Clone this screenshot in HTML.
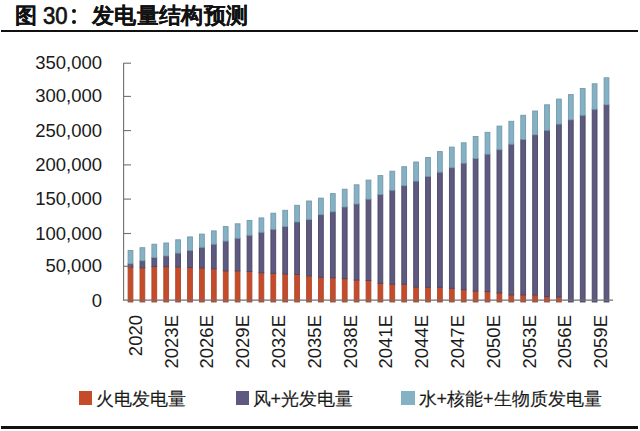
<!DOCTYPE html>
<html><head><meta charset="utf-8">
<style>
html,body{margin:0;padding:0;background:#fff;}
body{width:640px;height:431px;position:relative;overflow:hidden;font-family:"Liberation Sans",sans-serif;color:#1a1a1a;}
.title{position:absolute;left:15px;top:0.5px;font-size:22px;font-weight:bold;white-space:nowrap;line-height:30px;color:#111;-webkit-text-stroke:0.05px #111;}
.dot{position:absolute;left:72px;width:4px;height:4px;border-radius:50%;background:#111;}
.rule{position:absolute;left:1px;width:637px;background:#111;}
.yl{position:absolute;right:538px;font-size:18.5px;line-height:22px;white-space:nowrap;text-align:right;}
.xl{position:absolute;top:315px;width:0;height:0;}
.xl{font-size:18px;}
.lg{position:absolute;top:385.8px;font-size:18px;line-height:26px;white-space:nowrap;-webkit-text-stroke:0.15px #1a1a1a;}
.sq{position:absolute;top:391px;width:13.5px;height:14px;}
svg{position:absolute;left:0;top:0;}
</style></head><body>
<div class="title" style="left:15px">图</div>
<div class="title" style="left:43px;top:1.0px;font-size:24px;transform:scaleX(0.92);transform-origin:0 0;font-weight:normal;-webkit-text-stroke:0.7px #111">30</div>
<div class="dot" style="top:8.9px"></div><div class="dot" style="top:20px"></div>
<div class="title" style="left:91.8px;letter-spacing:0.4px">发电量结构预测</div>
<div class="rule" style="top:30px;height:2px"></div>
<div class="rule" style="top:426.3px;height:2.6px"></div>
<div class="yl" style="top:290.2px">0</div>
<div class="yl" style="top:255.2px">50,000</div>
<div class="yl" style="top:222.5px">100,000</div>
<div class="yl" style="top:188.1px">150,000</div>
<div class="yl" style="top:153.9px">200,000</div>
<div class="yl" style="top:119.6px">250,000</div>
<div class="yl" style="top:85.4px">300,000</div>
<div class="yl" style="top:52.2px">350,000</div>
<svg width="640" height="431" viewBox="0 0 640 431">
<rect x="128.10" y="267.00" width="4.8" height="35.00" fill="#c64b28" stroke="#ab4932" stroke-width="0.9"/>
<rect x="128.10" y="263.80" width="4.8" height="3.20" fill="#5d5980" stroke="#4a4663" stroke-width="0.9"/>
<rect x="128.10" y="250.50" width="4.8" height="13.30" fill="#85b1c4" stroke="#7399ab" stroke-width="0.9"/>
<rect x="140.00" y="267.80" width="4.8" height="34.20" fill="#c64b28" stroke="#ab4932" stroke-width="0.9"/>
<rect x="140.00" y="260.80" width="4.8" height="7.00" fill="#5d5980" stroke="#4a4663" stroke-width="0.9"/>
<rect x="140.00" y="247.70" width="4.8" height="13.10" fill="#85b1c4" stroke="#7399ab" stroke-width="0.9"/>
<rect x="151.90" y="266.50" width="4.8" height="35.50" fill="#c64b28" stroke="#ab4932" stroke-width="0.9"/>
<rect x="151.90" y="257.60" width="4.8" height="8.90" fill="#5d5980" stroke="#4a4663" stroke-width="0.9"/>
<rect x="151.90" y="244.20" width="4.8" height="13.40" fill="#85b1c4" stroke="#7399ab" stroke-width="0.9"/>
<rect x="163.80" y="266.70" width="4.8" height="35.30" fill="#c64b28" stroke="#ab4932" stroke-width="0.9"/>
<rect x="163.80" y="256.00" width="4.8" height="10.70" fill="#5d5980" stroke="#4a4663" stroke-width="0.9"/>
<rect x="163.80" y="243.00" width="4.8" height="13.00" fill="#85b1c4" stroke="#7399ab" stroke-width="0.9"/>
<rect x="175.70" y="267.00" width="4.8" height="35.00" fill="#c64b28" stroke="#ab4932" stroke-width="0.9"/>
<rect x="175.70" y="253.10" width="4.8" height="13.90" fill="#5d5980" stroke="#4a4663" stroke-width="0.9"/>
<rect x="175.70" y="239.80" width="4.8" height="13.30" fill="#85b1c4" stroke="#7399ab" stroke-width="0.9"/>
<rect x="187.60" y="267.60" width="4.8" height="34.40" fill="#c64b28" stroke="#ab4932" stroke-width="0.9"/>
<rect x="187.60" y="250.50" width="4.8" height="17.10" fill="#5d5980" stroke="#4a4663" stroke-width="0.9"/>
<rect x="187.60" y="236.90" width="4.8" height="13.60" fill="#85b1c4" stroke="#7399ab" stroke-width="0.9"/>
<rect x="199.50" y="268.00" width="4.8" height="34.00" fill="#c64b28" stroke="#ab4932" stroke-width="0.9"/>
<rect x="199.50" y="247.30" width="4.8" height="20.70" fill="#5d5980" stroke="#4a4663" stroke-width="0.9"/>
<rect x="199.50" y="234.10" width="4.8" height="13.20" fill="#85b1c4" stroke="#7399ab" stroke-width="0.9"/>
<rect x="211.40" y="268.80" width="4.8" height="33.20" fill="#c64b28" stroke="#ab4932" stroke-width="0.9"/>
<rect x="211.40" y="244.20" width="4.8" height="24.60" fill="#5d5980" stroke="#4a4663" stroke-width="0.9"/>
<rect x="211.40" y="230.90" width="4.8" height="13.30" fill="#85b1c4" stroke="#7399ab" stroke-width="0.9"/>
<rect x="223.30" y="270.90" width="4.8" height="31.10" fill="#c64b28" stroke="#ab4932" stroke-width="0.9"/>
<rect x="223.30" y="241.10" width="4.8" height="29.80" fill="#5d5980" stroke="#4a4663" stroke-width="0.9"/>
<rect x="223.30" y="226.60" width="4.8" height="14.50" fill="#85b1c4" stroke="#7399ab" stroke-width="0.9"/>
<rect x="235.20" y="270.90" width="4.8" height="31.10" fill="#c64b28" stroke="#ab4932" stroke-width="0.9"/>
<rect x="235.20" y="238.30" width="4.8" height="32.60" fill="#5d5980" stroke="#4a4663" stroke-width="0.9"/>
<rect x="235.20" y="223.80" width="4.8" height="14.50" fill="#85b1c4" stroke="#7399ab" stroke-width="0.9"/>
<rect x="247.10" y="271.40" width="4.8" height="30.60" fill="#c64b28" stroke="#ab4932" stroke-width="0.9"/>
<rect x="247.10" y="235.30" width="4.8" height="36.10" fill="#5d5980" stroke="#4a4663" stroke-width="0.9"/>
<rect x="247.10" y="220.50" width="4.8" height="14.80" fill="#85b1c4" stroke="#7399ab" stroke-width="0.9"/>
<rect x="259.00" y="272.80" width="4.8" height="29.20" fill="#c64b28" stroke="#ab4932" stroke-width="0.9"/>
<rect x="259.00" y="232.30" width="4.8" height="40.50" fill="#5d5980" stroke="#4a4663" stroke-width="0.9"/>
<rect x="259.00" y="217.90" width="4.8" height="14.40" fill="#85b1c4" stroke="#7399ab" stroke-width="0.9"/>
<rect x="270.90" y="273.30" width="4.8" height="28.70" fill="#c64b28" stroke="#ab4932" stroke-width="0.9"/>
<rect x="270.90" y="229.40" width="4.8" height="43.90" fill="#5d5980" stroke="#4a4663" stroke-width="0.9"/>
<rect x="270.90" y="213.20" width="4.8" height="16.20" fill="#85b1c4" stroke="#7399ab" stroke-width="0.9"/>
<rect x="282.80" y="274.00" width="4.8" height="28.00" fill="#c64b28" stroke="#ab4932" stroke-width="0.9"/>
<rect x="282.80" y="226.60" width="4.8" height="47.40" fill="#5d5980" stroke="#4a4663" stroke-width="0.9"/>
<rect x="282.80" y="210.30" width="4.8" height="16.30" fill="#85b1c4" stroke="#7399ab" stroke-width="0.9"/>
<rect x="294.70" y="274.50" width="4.8" height="27.50" fill="#c64b28" stroke="#ab4932" stroke-width="0.9"/>
<rect x="294.70" y="222.00" width="4.8" height="52.50" fill="#5d5980" stroke="#4a4663" stroke-width="0.9"/>
<rect x="294.70" y="205.30" width="4.8" height="16.70" fill="#85b1c4" stroke="#7399ab" stroke-width="0.9"/>
<rect x="306.60" y="275.90" width="4.8" height="26.10" fill="#c64b28" stroke="#ab4932" stroke-width="0.9"/>
<rect x="306.60" y="219.50" width="4.8" height="56.40" fill="#5d5980" stroke="#4a4663" stroke-width="0.9"/>
<rect x="306.60" y="201.00" width="4.8" height="18.50" fill="#85b1c4" stroke="#7399ab" stroke-width="0.9"/>
<rect x="318.50" y="277.30" width="4.8" height="24.70" fill="#c64b28" stroke="#ab4932" stroke-width="0.9"/>
<rect x="318.50" y="214.70" width="4.8" height="62.60" fill="#5d5980" stroke="#4a4663" stroke-width="0.9"/>
<rect x="318.50" y="198.10" width="4.8" height="16.60" fill="#85b1c4" stroke="#7399ab" stroke-width="0.9"/>
<rect x="330.40" y="277.80" width="4.8" height="24.20" fill="#c64b28" stroke="#ab4932" stroke-width="0.9"/>
<rect x="330.40" y="211.80" width="4.8" height="66.00" fill="#5d5980" stroke="#4a4663" stroke-width="0.9"/>
<rect x="330.40" y="193.60" width="4.8" height="18.20" fill="#85b1c4" stroke="#7399ab" stroke-width="0.9"/>
<rect x="342.30" y="278.70" width="4.8" height="23.30" fill="#c64b28" stroke="#ab4932" stroke-width="0.9"/>
<rect x="342.30" y="207.00" width="4.8" height="71.70" fill="#5d5980" stroke="#4a4663" stroke-width="0.9"/>
<rect x="342.30" y="189.20" width="4.8" height="17.80" fill="#85b1c4" stroke="#7399ab" stroke-width="0.9"/>
<rect x="354.20" y="280.10" width="4.8" height="21.90" fill="#c64b28" stroke="#ab4932" stroke-width="0.9"/>
<rect x="354.20" y="204.00" width="4.8" height="76.10" fill="#5d5980" stroke="#4a4663" stroke-width="0.9"/>
<rect x="354.20" y="184.80" width="4.8" height="19.20" fill="#85b1c4" stroke="#7399ab" stroke-width="0.9"/>
<rect x="366.10" y="280.60" width="4.8" height="21.40" fill="#c64b28" stroke="#ab4932" stroke-width="0.9"/>
<rect x="366.10" y="199.20" width="4.8" height="81.40" fill="#5d5980" stroke="#4a4663" stroke-width="0.9"/>
<rect x="366.10" y="180.10" width="4.8" height="19.10" fill="#85b1c4" stroke="#7399ab" stroke-width="0.9"/>
<rect x="378.00" y="283.30" width="4.8" height="18.70" fill="#c64b28" stroke="#ab4932" stroke-width="0.9"/>
<rect x="378.00" y="194.60" width="4.8" height="88.70" fill="#5d5980" stroke="#4a4663" stroke-width="0.9"/>
<rect x="378.00" y="175.60" width="4.8" height="19.00" fill="#85b1c4" stroke="#7399ab" stroke-width="0.9"/>
<rect x="389.90" y="284.20" width="4.8" height="17.80" fill="#c64b28" stroke="#ab4932" stroke-width="0.9"/>
<rect x="389.90" y="190.30" width="4.8" height="93.90" fill="#5d5980" stroke="#4a4663" stroke-width="0.9"/>
<rect x="389.90" y="171.20" width="4.8" height="19.10" fill="#85b1c4" stroke="#7399ab" stroke-width="0.9"/>
<rect x="401.80" y="284.20" width="4.8" height="17.80" fill="#c64b28" stroke="#ab4932" stroke-width="0.9"/>
<rect x="401.80" y="185.70" width="4.8" height="98.50" fill="#5d5980" stroke="#4a4663" stroke-width="0.9"/>
<rect x="401.80" y="166.70" width="4.8" height="19.00" fill="#85b1c4" stroke="#7399ab" stroke-width="0.9"/>
<rect x="413.70" y="287.00" width="4.8" height="15.00" fill="#c64b28" stroke="#ab4932" stroke-width="0.9"/>
<rect x="413.70" y="181.10" width="4.8" height="105.90" fill="#5d5980" stroke="#4a4663" stroke-width="0.9"/>
<rect x="413.70" y="162.00" width="4.8" height="19.10" fill="#85b1c4" stroke="#7399ab" stroke-width="0.9"/>
<rect x="425.60" y="287.30" width="4.8" height="14.70" fill="#c64b28" stroke="#ab4932" stroke-width="0.9"/>
<rect x="425.60" y="176.40" width="4.8" height="110.90" fill="#5d5980" stroke="#4a4663" stroke-width="0.9"/>
<rect x="425.60" y="157.50" width="4.8" height="18.90" fill="#85b1c4" stroke="#7399ab" stroke-width="0.9"/>
<rect x="437.50" y="287.30" width="4.8" height="14.70" fill="#c64b28" stroke="#ab4932" stroke-width="0.9"/>
<rect x="437.50" y="172.20" width="4.8" height="115.10" fill="#5d5980" stroke="#4a4663" stroke-width="0.9"/>
<rect x="437.50" y="151.60" width="4.8" height="20.60" fill="#85b1c4" stroke="#7399ab" stroke-width="0.9"/>
<rect x="449.40" y="288.30" width="4.8" height="13.70" fill="#c64b28" stroke="#ab4932" stroke-width="0.9"/>
<rect x="449.40" y="167.70" width="4.8" height="120.60" fill="#5d5980" stroke="#4a4663" stroke-width="0.9"/>
<rect x="449.40" y="147.10" width="4.8" height="20.60" fill="#85b1c4" stroke="#7399ab" stroke-width="0.9"/>
<rect x="461.30" y="289.70" width="4.8" height="12.30" fill="#c64b28" stroke="#ab4932" stroke-width="0.9"/>
<rect x="461.30" y="163.20" width="4.8" height="126.50" fill="#5d5980" stroke="#4a4663" stroke-width="0.9"/>
<rect x="461.30" y="142.80" width="4.8" height="20.40" fill="#85b1c4" stroke="#7399ab" stroke-width="0.9"/>
<rect x="473.20" y="291.10" width="4.8" height="10.90" fill="#c64b28" stroke="#ab4932" stroke-width="0.9"/>
<rect x="473.20" y="158.60" width="4.8" height="132.50" fill="#5d5980" stroke="#4a4663" stroke-width="0.9"/>
<rect x="473.20" y="136.50" width="4.8" height="22.10" fill="#85b1c4" stroke="#7399ab" stroke-width="0.9"/>
<rect x="485.10" y="291.60" width="4.8" height="10.40" fill="#c64b28" stroke="#ab4932" stroke-width="0.9"/>
<rect x="485.10" y="154.20" width="4.8" height="137.40" fill="#5d5980" stroke="#4a4663" stroke-width="0.9"/>
<rect x="485.10" y="132.30" width="4.8" height="21.90" fill="#85b1c4" stroke="#7399ab" stroke-width="0.9"/>
<rect x="497.00" y="293.00" width="4.8" height="9.00" fill="#c64b28" stroke="#ab4932" stroke-width="0.9"/>
<rect x="497.00" y="149.70" width="4.8" height="143.30" fill="#5d5980" stroke="#4a4663" stroke-width="0.9"/>
<rect x="497.00" y="126.10" width="4.8" height="23.60" fill="#85b1c4" stroke="#7399ab" stroke-width="0.9"/>
<rect x="508.90" y="294.90" width="4.8" height="7.10" fill="#c64b28" stroke="#ab4932" stroke-width="0.9"/>
<rect x="508.90" y="144.20" width="4.8" height="150.70" fill="#5d5980" stroke="#4a4663" stroke-width="0.9"/>
<rect x="508.90" y="121.30" width="4.8" height="22.90" fill="#85b1c4" stroke="#7399ab" stroke-width="0.9"/>
<rect x="520.80" y="294.90" width="4.8" height="7.10" fill="#c64b28" stroke="#ab4932" stroke-width="0.9"/>
<rect x="520.80" y="139.50" width="4.8" height="155.40" fill="#5d5980" stroke="#4a4663" stroke-width="0.9"/>
<rect x="520.80" y="115.30" width="4.8" height="24.20" fill="#85b1c4" stroke="#7399ab" stroke-width="0.9"/>
<rect x="532.70" y="295.00" width="4.8" height="7.00" fill="#c64b28" stroke="#ab4932" stroke-width="0.9"/>
<rect x="532.70" y="134.80" width="4.8" height="160.20" fill="#5d5980" stroke="#4a4663" stroke-width="0.9"/>
<rect x="532.70" y="111.00" width="4.8" height="23.80" fill="#85b1c4" stroke="#7399ab" stroke-width="0.9"/>
<rect x="544.60" y="296.40" width="4.8" height="5.60" fill="#c64b28" stroke="#ab4932" stroke-width="0.9"/>
<rect x="544.60" y="130.30" width="4.8" height="166.10" fill="#5d5980" stroke="#4a4663" stroke-width="0.9"/>
<rect x="544.60" y="104.80" width="4.8" height="25.50" fill="#85b1c4" stroke="#7399ab" stroke-width="0.9"/>
<rect x="556.50" y="296.90" width="4.8" height="5.10" fill="#c64b28" stroke="#ab4932" stroke-width="0.9"/>
<rect x="556.50" y="124.10" width="4.8" height="172.80" fill="#5d5980" stroke="#4a4663" stroke-width="0.9"/>
<rect x="556.50" y="99.10" width="4.8" height="25.00" fill="#85b1c4" stroke="#7399ab" stroke-width="0.9"/>
<rect x="568.40" y="119.80" width="4.8" height="182.20" fill="#5d5980" stroke="#4a4663" stroke-width="0.9"/>
<rect x="568.40" y="94.60" width="4.8" height="25.20" fill="#85b1c4" stroke="#7399ab" stroke-width="0.9"/>
<rect x="580.30" y="115.30" width="4.8" height="186.70" fill="#5d5980" stroke="#4a4663" stroke-width="0.9"/>
<rect x="580.30" y="88.50" width="4.8" height="26.80" fill="#85b1c4" stroke="#7399ab" stroke-width="0.9"/>
<rect x="592.20" y="109.30" width="4.8" height="192.70" fill="#5d5980" stroke="#4a4663" stroke-width="0.9"/>
<rect x="592.20" y="83.80" width="4.8" height="25.50" fill="#85b1c4" stroke="#7399ab" stroke-width="0.9"/>
<rect x="604.10" y="104.80" width="4.8" height="197.20" fill="#5d5980" stroke="#4a4663" stroke-width="0.9"/>
<rect x="604.10" y="77.80" width="4.8" height="27.00" fill="#85b1c4" stroke="#7399ab" stroke-width="0.9"/>
<line x1="123.6" y1="63.1" x2="123.6" y2="300.6" stroke="#707070" stroke-width="1.1"/>
<line x1="123.1" y1="300.1" x2="613" y2="300.1" stroke="#707070" stroke-width="1.1"/>
<line x1="123.6" y1="266.25" x2="131" y2="266.25" stroke="#707070" stroke-width="1.1"/>
<line x1="123.6" y1="233.50" x2="131" y2="233.50" stroke="#707070" stroke-width="1.1"/>
<line x1="123.6" y1="199.10" x2="131" y2="199.10" stroke="#707070" stroke-width="1.1"/>
<line x1="123.6" y1="164.90" x2="131" y2="164.90" stroke="#707070" stroke-width="1.1"/>
<line x1="123.6" y1="130.60" x2="131" y2="130.60" stroke="#707070" stroke-width="1.1"/>
<line x1="123.6" y1="96.40" x2="131" y2="96.40" stroke="#707070" stroke-width="1.1"/>
<line x1="123.6" y1="63.20" x2="131" y2="63.20" stroke="#707070" stroke-width="1.1"/>
</svg>
<svg width="640" height="431" viewBox="0 0 640 431" font-family="Liberation Sans, sans-serif" font-size="18.5" fill="#1a1a1a">
<text transform="translate(141.70,315) rotate(-90)" text-anchor="end">2020</text>
<text transform="translate(177.51,315) rotate(-90)" text-anchor="end">2023E</text>
<text transform="translate(213.32,315) rotate(-90)" text-anchor="end">2026E</text>
<text transform="translate(249.13,315) rotate(-90)" text-anchor="end">2029E</text>
<text transform="translate(284.94,315) rotate(-90)" text-anchor="end">2032E</text>
<text transform="translate(320.75,315) rotate(-90)" text-anchor="end">2035E</text>
<text transform="translate(356.56,315) rotate(-90)" text-anchor="end">2038E</text>
<text transform="translate(392.37,315) rotate(-90)" text-anchor="end">2041E</text>
<text transform="translate(428.18,315) rotate(-90)" text-anchor="end">2044E</text>
<text transform="translate(463.99,315) rotate(-90)" text-anchor="end">2047E</text>
<text transform="translate(499.80,315) rotate(-90)" text-anchor="end">2050E</text>
<text transform="translate(535.61,315) rotate(-90)" text-anchor="end">2053E</text>
<text transform="translate(571.42,315) rotate(-90)" text-anchor="end">2056E</text>
<text transform="translate(607.23,315) rotate(-90)" text-anchor="end">2059E</text>
</svg>
<div class="sq" style="left:78.6px;background:#c64b28"></div>
<div class="lg" style="left:96px">火电发电量</div>
<div class="sq" style="left:235.6px;background:#5d5980"></div>
<div class="lg" style="left:252.5px">风+光发电量</div>
<div class="sq" style="left:401.4px;background:#85b1c4"></div>
<div class="lg" style="left:418.5px">水+核能+生物质发电量</div>
</body></html>
